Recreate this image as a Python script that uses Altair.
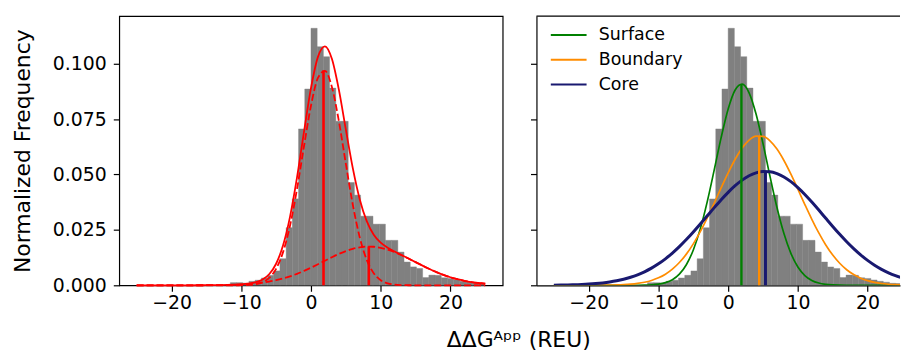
import altair as alt
import pandas as pd

FONT = "DejaVu Sans"

# ---------------- histogram (same data in both panels) ----------------
BIN_LEFT = [-11.57, -10.68, -9.79, -8.90, -8.01, -7.12, -6.23, -5.34, -4.45, -3.56,
            -2.67, -1.78, -0.89, 0.00, 0.89, 1.78, 2.67, 3.56, 4.45, 5.34,
            6.23, 7.12, 8.01, 8.90, 9.79, 10.68, 11.57, 12.46, 13.35, 14.24,
            15.13, 16.02, 16.91, 17.80, 18.69, 19.58, 20.47, 21.36, 22.25, 23.14,
            24.03]
BIN_WIDTH = 0.89
FREQ = [0.0012, 0.0012, 0.0010, 0.0018, 0.0023, 0.0033, 0.0045, 0.0065, 0.0120, 0.0260,
        0.0390, 0.0706, 0.0886, 0.1160, 0.1077, 0.1032, 0.0890, 0.0740, 0.0740, 0.0464,
        0.0407, 0.0312, 0.0312, 0.0276, 0.0276, 0.0203, 0.0203, 0.0150, 0.0105, 0.0083,
        0.0076, 0.0035, 0.0046, 0.0045, 0.0034, 0.0031, 0.0024, 0.0018, 0.0014, 0.0009,
        0.0008]

# ---------------- fitted curves, sampled at x = -25 ... 25 ----------------
X_GRID = list(range(-25, 26))

FIT_TOTAL = [0.0, 0.0, 0.0, 0.0, 0.000001, 0.000002, 0.000003, 0.000006, 0.000011, 0.00002,
             0.000034, 0.000058, 0.000096, 0.000157, 0.000254, 0.000417, 0.000713, 0.001296,
             0.002504, 0.004977, 0.009728, 0.018052, 0.03101, 0.04867, 0.069234, 0.088956,
             0.103102, 0.107877, 0.102217, 0.088284, 0.070354, 0.05287, 0.038764, 0.028942,
             0.022842, 0.019243, 0.016975, 0.015256, 0.013671, 0.012077, 0.010459, 0.00886,
             0.007341, 0.005943, 0.004702, 0.003637, 0.002748, 0.00203, 0.001465, 0.001033,
             0.000712]
FIT_PEAK1 = [0.0, 0.0, 0.0, 0.0, 0.0, 0.0, 0.0, 0.0, 0.0, 0.0,
             0.0, 0.0, 0.0, 0.0, 0.000011, 0.000042, 0.000149, 0.000467, 0.001313, 0.003303,
             0.00743, 0.01497, 0.02697, 0.04349, 0.06275, 0.08102, 0.09361, 0.09678, 0.08954,
             0.07413, 0.05491, 0.0364, 0.0216, 0.01146, 0.00544, 0.002314, 0.00088, 0.0003,
             0.000091, 0.000025, 0.000006, 0.0, 0.0, 0.0, 0.0, 0.0, 0.0, 0.0, 0.0, 0.0, 0.0]
FIT_PEAK2 = [0.0, 0.0, 0.0, 0.000001, 0.000001, 0.000002, 0.000003, 0.000006, 0.000011, 0.00002,
             0.000034, 0.000058, 0.000096, 0.000155, 0.000243, 0.000375, 0.000564, 0.000829,
             0.001191, 0.001674, 0.002298, 0.003082, 0.00404, 0.00518, 0.006484, 0.007936,
             0.009492, 0.011097, 0.012677, 0.014154, 0.015444, 0.01647, 0.017164, 0.017482,
             0.017402, 0.016929, 0.016095, 0.014956, 0.01358, 0.012052, 0.010453, 0.00886,
             0.007341, 0.005943, 0.004702, 0.003637, 0.002748, 0.00203, 0.001465, 0.001033,
             0.000712]
PEAK_POS = [1.8, 8.3]
PEAK_HEIGHT = [0.097, 0.0175]

REGIONS = ["Surface", "Boundary", "Core"]
REGION_COLORS = ["#008000", "#ff8c00", "#191970"]
SURFACE = [0.0, 0.0, 0.0, 0.0, 0.0, 0.0, 0.0, 0.0, 0.0, 0.0,
           0.000003, 0.000009, 0.000027, 0.000078, 0.000208, 0.000515, 0.001185, 0.002532,
           0.005031, 0.009289, 0.01595, 0.02546, 0.03778, 0.0521, 0.06678, 0.07959, 0.08816,
           0.09077, 0.08688, 0.07729, 0.06392, 0.04914, 0.03511, 0.02333, 0.0144, 0.00827,
           0.004412, 0.002188, 0.001009, 0.000433, 0.000172, 0.000064, 0.000022, 0.000007,
           0.0, 0.0, 0.0, 0.0, 0.0, 0.0, 0.0]
BOUNDARY = [0.0, 0.000001, 0.000001, 0.000003, 0.000006, 0.000013, 0.000025, 0.000049,
            0.000091, 0.000166, 0.000295, 0.000508, 0.000851, 0.001384, 0.002188, 0.003363,
            0.005023, 0.007284, 0.01027, 0.01407, 0.01872, 0.02421, 0.03042, 0.03714, 0.04406,
            0.05079, 0.0569, 0.06193, 0.0655, 0.0673, 0.06721, 0.06521, 0.06148, 0.05632,
            0.05014, 0.04337, 0.03645, 0.02977, 0.02362, 0.01821, 0.01365, 0.00994, 0.00703,
            0.00483, 0.003226, 0.002094, 0.001321, 0.000809, 0.000481, 0.000279, 0.000157]
CORE = [0.000075, 0.000115, 0.000173, 0.000256, 0.000375, 0.000541, 0.00077, 0.00108,
        0.001491, 0.002033, 0.002733, 0.00362, 0.004728, 0.00609, 0.007736, 0.009679,
        0.011945, 0.014536, 0.01744, 0.020632, 0.02406, 0.027663, 0.031359, 0.03505,
        0.038627, 0.041963, 0.04495, 0.047473, 0.049426, 0.050741, 0.051355, 0.051246,
        0.050418, 0.048905, 0.046769, 0.044101, 0.040997, 0.037573, 0.033955, 0.030249,
        0.026569, 0.023012, 0.019645, 0.016541, 0.013729, 0.011231, 0.009062, 0.007206,
        0.005654, 0.004371, 0.003332]
REGION_MEAN = [1.9, 4.45, 5.35]
REGION_PEAK = [0.0908, 0.0675, 0.0514]

X_TICKS = [-20, -10, 0, 10, 20]
Y_TICKS = [0.0, 0.025, 0.05, 0.075, 0.1]
Y_MAX = 0.1215
XL_DOMAIN = [-27.5, 27.5]
XR_DOMAIN = [-27.5, 24.65]   # right panel is cut off at the figure edge

# ---------------- tables ----------------
hist_df = pd.DataFrame({"lo": BIN_LEFT, "hi": [b + BIN_WIDTH for b in BIN_LEFT], "freq": FREQ})
total_df = pd.DataFrame({"x": X_GRID, "y": FIT_TOTAL})
comp_df = pd.concat([
    pd.DataFrame({"x": X_GRID, "y": FIT_PEAK1, "comp": "c1"}),
    pd.DataFrame({"x": X_GRID, "y": FIT_PEAK2, "comp": "c2"}),
])
peak_df = pd.DataFrame({"x": PEAK_POS, "y": PEAK_HEIGHT})
region_df = pd.concat([
    pd.DataFrame({"x": X_GRID, "y": vals, "region": name})
    for name, vals in zip(REGIONS, [SURFACE, BOUNDARY, CORE])
])
region_peak_df = pd.DataFrame({"x": REGION_MEAN, "y": REGION_PEAK, "region": REGIONS})
frame_df = pd.DataFrame({"x0": [XR_DOMAIN[0]], "x1": [XR_DOMAIN[1]], "y": [Y_MAX]})

Y_SCALE = alt.Scale(domain=[0, Y_MAX], nice=False, zero=False)
GRAY = "#808080"
RED = "#ff0000"

# ---------------- left panel ----------------
xl = alt.Scale(domain=XL_DOMAIN, nice=False, zero=False)
x_axis_l = alt.Axis(values=X_TICKS, format="d", title=None, domain=False)
y_axis_l = alt.Axis(values=Y_TICKS, format=".3f", title="Normalized Frequency", domain=False)

l_hist = alt.Chart(hist_df).mark_rect(color=GRAY, stroke=GRAY, strokeWidth=0.4).encode(
    x=alt.X("lo:Q", scale=xl, axis=x_axis_l),
    x2="hi:Q",
    y=alt.Y("freq:Q", scale=Y_SCALE, axis=y_axis_l),
    y2=alt.datum(0),
)
l_total = alt.Chart(total_df).mark_line(color=RED, strokeWidth=1.8, interpolate="monotone").encode(
    x="x:Q", y="y:Q")
l_comp = alt.Chart(comp_df).mark_line(color=RED, strokeWidth=1.8, strokeDash=[7, 3],
                                      interpolate="monotone").encode(
    x="x:Q", y="y:Q", detail="comp:N")
l_rule = alt.Chart(peak_df).mark_rule(color=RED, strokeWidth=2.6).encode(
    x="x:Q", y="y:Q", y2=alt.datum(0))

left = alt.layer(l_hist, l_total, l_comp, l_rule).properties(width=386, height=271)

# ---------------- right panel ----------------
xr = alt.Scale(domain=XR_DOMAIN, nice=False, zero=False)
x_axis_r = alt.Axis(values=X_TICKS, format="d", title=None, domain=True)
y_axis_r = alt.Axis(values=Y_TICKS, labels=False, title=None, domain=True)

color_enc = alt.Color("region:N", scale=alt.Scale(domain=REGIONS, range=REGION_COLORS),
                      legend=alt.Legend(title=None))
width_cond = alt.condition(alt.datum.region == "Core", alt.value(3.0), alt.value(1.7))

r_hist = alt.Chart(hist_df).mark_rect(color=GRAY, stroke=GRAY, strokeWidth=0.4, clip=True).encode(
    x=alt.X("lo:Q", scale=xr, axis=x_axis_r),
    x2="hi:Q",
    y=alt.Y("freq:Q", scale=Y_SCALE, axis=y_axis_r),
    y2=alt.datum(0),
)
# top edge of the (cropped) frame
r_top = alt.Chart(frame_df).mark_rule(color="black", strokeWidth=1.2).encode(
    x="x0:Q", x2="x1:Q", y="y:Q")
r_curves = alt.Chart(region_df).mark_line(interpolate="monotone", clip=True).encode(
    x="x:Q", y="y:Q", color=color_enc, strokeWidth=width_cond)
r_rules = alt.Chart(region_peak_df).mark_rule().encode(
    x="x:Q", y="y:Q", y2=alt.datum(0), color=color_enc,
    strokeWidth=alt.condition(alt.datum.region == "Core", alt.value(3.0), alt.value(2.4)))

right = alt.layer(r_hist, r_top, r_curves, r_rules).properties(
    width=366, height=271, view=alt.ViewBackground(stroke="transparent"))

chart = alt.hconcat(left, right, spacing=25).properties(
    padding={"left": 3, "top": 5, "right": 0, "bottom": 0},
    title=alt.TitleParams(
        text="ΔΔGᴬᵖᵖ (REU)", orient="bottom", anchor="middle", font=FONT, fontSize=22,
        fontWeight="normal", color="black", dx=63, offset=18),
).configure_axis(
    labelFont=FONT, titleFont=FONT, labelFontSize=19, titleFontSize=22,
    titleFontWeight="normal", labelColor="black", titleColor="black",
    tickColor="black", domainColor="black", tickSize=6, tickWidth=1.2, domainWidth=1.2,
    grid=False,
).configure_axisY(
    labelPadding=7.1, titlePadding=17.8,
).configure_axisX(
    labelPadding=2,
).configure_view(
    stroke="black", strokeWidth=1.2,
).configure_legend(
    orient="none", legendX=443.7, legendY=10.2, symbolType="M-3,0L3,0", symbolSize=144,
    symbolStrokeWidth=2, labelOffset=21.5, labelFont=FONT, labelFontSize=17.5,
    labelColor="black", rowPadding=6, padding=0,
)

chart.save("out.html", embed_options={"renderer": "svg", "actions": False})
